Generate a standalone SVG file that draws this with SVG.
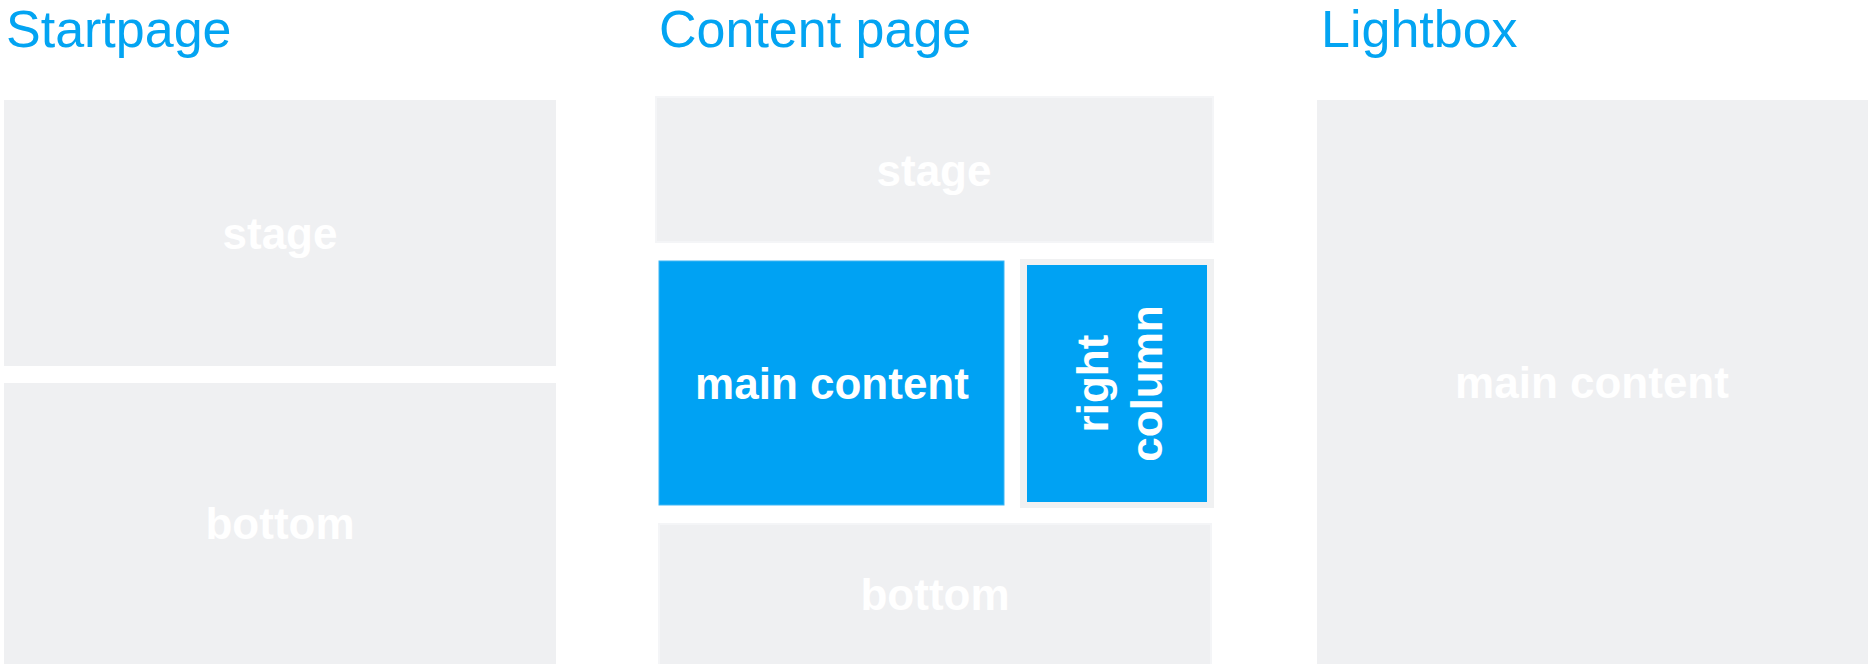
<svg xmlns="http://www.w3.org/2000/svg" width="1869" height="664" viewBox="0 0 1869 664">
<style>
.title{font-family:"Liberation Sans",Arial,sans-serif;font-size:52px;fill:#03A4F2}
.lbl{font-family:"Liberation Sans",Arial,sans-serif;font-size:44px;font-weight:bold;fill:#FFFFFF;text-anchor:middle}
.gray{fill:#EFF0F2}
.blue{fill:#00A2F3}
</style>
<rect width="1869" height="664" fill="#FFFFFF"/>
<g id="titles">
<text class="title" x="6" y="47">Startpage</text>
<text class="title" x="659" y="47">Content page</text>
<text class="title" x="1321" y="47">Lightbox</text>
</g>
<g id="start-stage">
<rect class="gray" x="4" y="100" width="552" height="266"/>
<text class="lbl" x="280" y="249">stage</text>
</g>
<g id="start-bottom">
<rect class="gray" x="4" y="383" width="552" height="281"/>
<text class="lbl" x="280" y="539">bottom</text>
</g>
<g id="content-stage">
<rect class="gray" x="656" y="97" width="557" height="145" stroke="#F4F5F7" stroke-width="2"/>
<text class="lbl" x="934" y="186">stage</text>
</g>
<g id="content-main">
<rect class="blue" x="659" y="261" width="345" height="244" stroke="#3CB6F5" stroke-width="1"/>
<text class="lbl" x="832" y="399">main content</text>
</g>
<g id="content-right">
<rect x="1020" y="259" width="194" height="249" fill="#F0F1F2"/>
<rect class="blue" x="1027" y="265" width="180" height="237"/>
<g transform="translate(1108,383.5) rotate(-90)">
<text class="lbl" x="0" y="0">right</text>
<text class="lbl" x="0" y="54">column</text>
</g>
</g>
<g id="content-bottom">
<rect class="gray" x="659" y="524" width="552" height="141" stroke="#F4F5F7" stroke-width="2"/>
<text class="lbl" x="935" y="610">bottom</text>
</g>
<g id="lightbox-main">
<rect class="gray" x="1317" y="100" width="551" height="564"/>
<text class="lbl" x="1592" y="398">main content</text>
</g>
<g id="connectors"/>
</svg>
